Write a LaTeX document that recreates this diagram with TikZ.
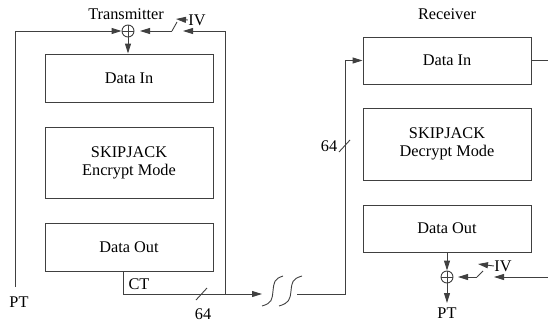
\documentclass[tikz,border=0pt]{standalone}
\usepackage{fontspec}
\setmainfont{Liberation Serif}
\usetikzlibrary{arrows.meta}
\begin{document}
\begin{tikzpicture}[x=1pt,y=-1pt,
  line width=0.9pt, draw={black!75},
  box/.style={draw, rectangle, minimum width=168pt, inner sep=0pt, align=center,
    font=\fontsize{16.3}{18}\selectfont},
  lbl/.style={inner sep=0pt, font=\fontsize{16.3}{18}\selectfont},
  arr/.style={-{Triangle[length=10pt,width=6pt]}},
  xorn/.style={draw, circle, minimum size=12pt, inner sep=0pt,
    path picture={\draw[line width=0.8pt] (path picture bounding box.north) -- (path picture bounding box.south)
      (path picture bounding box.west) -- (path picture bounding box.east);}}]
\useasboundingbox (0,0) rectangle (548,324);
% Transmitter
\node[lbl] (ttitle) at (126,14) {Transmitter};
\node[box, minimum height=48pt] (tdin) at (129,78) {Data In};
\node[box, minimum height=71pt] (tsk) at (129,162.5) {SKIPJACK\\Encrypt Mode};
\node[box, minimum height=48pt] (tdout) at (129,247) {Data Out};
\node[xorn] (txor) at (128,31) {};
\node[lbl] (tiv) at (197,20) {IV};
\node[lbl] (tpt) at (19,302) {PT};
\node[lbl] (tct) at (139,284) {CT};
\node[lbl] (t64) at (203,314) {64};
\coordinate (tptend) at (15,287);
\coordinate (tlc) at (15,31);
\coordinate (trc) at (225,31);
\coordinate (trb) at (225,294);
\coordinate (tsw) at (172,31);
\coordinate (tswtop) at (177,22);
\coordinate (tivtip) at (176,19);
\coordinate (tswtip) at (140,31);
\coordinate (tswin) at (183,31);
\coordinate (ctstart) at (123,271);
\coordinate (ctcorner) at (123,294);
\coordinate (linetip) at (262,294);
\draw[arr] (tptend) -- (tlc) -- (txor.west);
\draw[arr] (tsw) -- (tswtip);
\draw (tsw) -- (tswtop);
\draw[arr] (tiv.west) -- (tivtip);
\draw[arr] (trc) -- (tswin);
\draw (trc) -- (trb);
\draw[arr] (txor.south) -- (txor.south |- tdin.north);
\draw[arr] (ctstart) -- (ctcorner) -- (linetip);
\draw (196,300) -- (207,288);
% squiggles
\draw (262,306) .. controls (272,303) and (272,300) .. (273,291) .. controls (274,282) and (274,279) .. (283,276);
\draw (279,306) .. controls (289,303) and (290,300) .. (291,291) .. controls (292,282) and (292,279) .. (302,276);
% Receiver
\node[lbl] (rtitle) at (447,14) {Receiver};
\node[box, minimum height=47pt] (rdin) at (447,60.5) {Data In};
\node[box, minimum height=72pt] (rsk) at (447,144) {SKIPJACK\\Decrypt Mode};
\node[box, minimum height=47pt] (rdout) at (447,228.5) {Data Out};
\node[xorn] (rxor) at (447,277) {};
\node[lbl] (riv) at (503,266) {IV};
\node[lbl] (rpt) at (447,313) {PT};
\node[lbl] (r64) at (329,146) {64};
\coordinate (rlinestart) at (297,294);
\coordinate (rlb) at (345,294);
\coordinate (rlt) at (345,60.5);
\coordinate (rout) at (548,60.5);
\coordinate (rptend) at (447,303);
\coordinate (rsw) at (477,277);
\coordinate (rswtop) at (483,271);
\coordinate (rswtip) at (458,277);
\coordinate (rivtip) at (478,264);
\coordinate (rswin) at (494,277);
\coordinate (rright) at (548,277);
\draw[arr] (rlinestart) -- (rlb) -- (rlt) -- (rdin.west);
\draw (339,152) -- (350,140);
\draw (rdin.east) -- (rout);
\draw[arr] (rdout.south) -- (rxor.north);
\draw[arr] (rxor.south) -- (rptend);
\draw[arr] (rsw) -- (rswtip);
\draw (rsw) -- (rswtop);
\draw[arr] (riv.west) -- (rivtip);
\draw[arr] (rright) -- (rswin);
\end{tikzpicture}
\end{document}
